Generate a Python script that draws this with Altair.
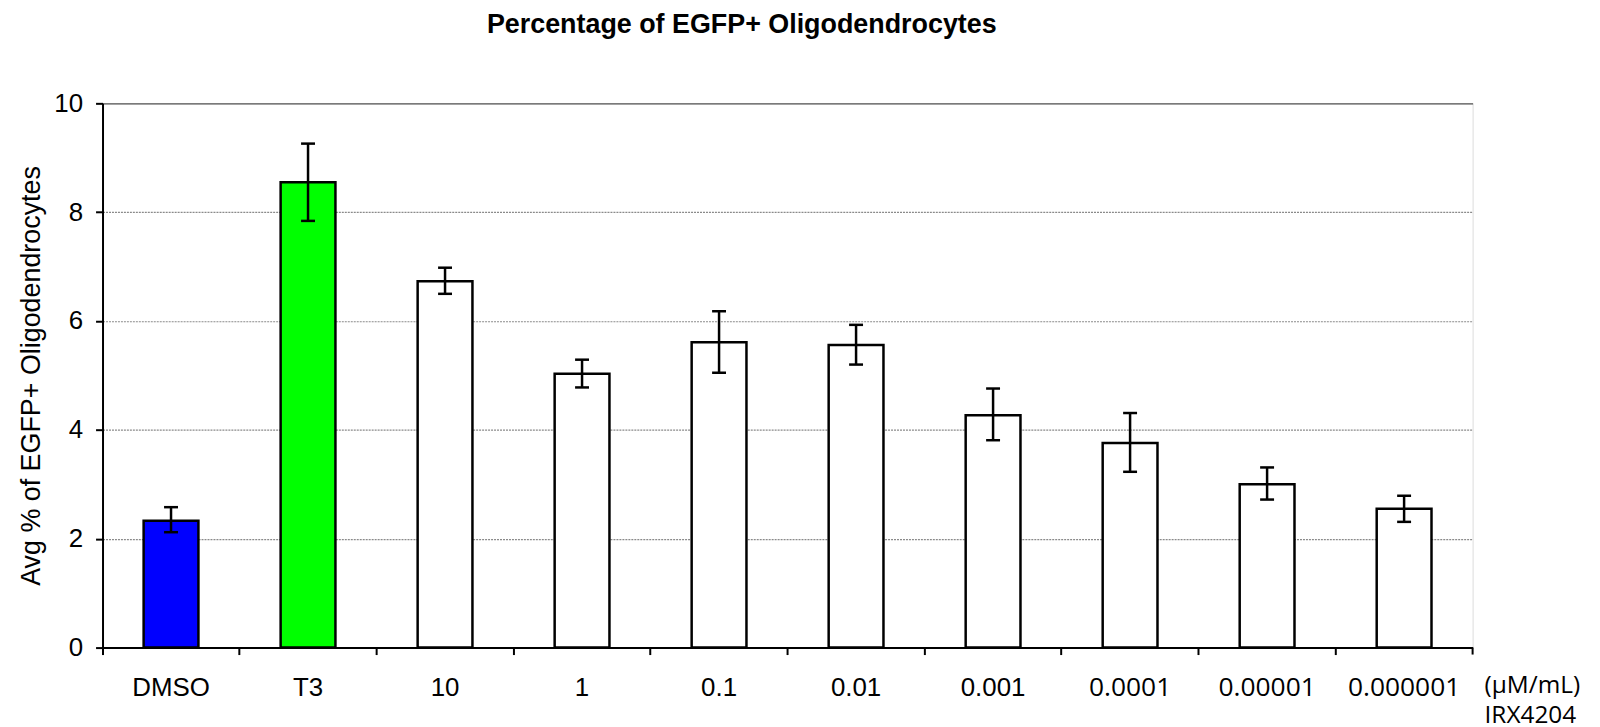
import altair as alt
import pandas as pd

categories = ["DMSO", "T3", "10", "1", "0.1", "0.01", "0.001", "0.0001", "0.00001", "0.000001"]
means = [2.33, 8.55, 6.73, 5.03, 5.61, 5.56, 4.27, 3.76, 3.00, 2.55]
err_low = [2.12, 7.84, 6.50, 4.78, 5.05, 5.20, 3.81, 3.23, 2.72, 2.31]
err_high = [2.58, 9.26, 6.98, 5.29, 6.18, 5.93, 4.76, 4.31, 3.31, 2.79]
fills = ["#0000FF", "#00FF00", "#FFFFFF", "#FFFFFF", "#FFFFFF", "#FFFFFF",
         "#FFFFFF", "#FFFFFF", "#FFFFFF", "#FFFFFF"]
y_ticks = [0, 2, 4, 6, 8, 10]
unit_lines = ["(\u03bcM/mL)", "IRX4204"]
title_text = "Percentage of EGFP+ Oligodendrocytes"
y_title = "Avg % of EGFP+ Oligodendrocytes"

W, H = 1377, 547

df = pd.DataFrame({"cat": categories, "mean": means, "lo": err_low, "hi": err_high})

calibri_like = "indexof(['0.0001','0.00001','0.000001'], datum.value) >= 0"

x_enc = alt.X(
    "cat:N",
    sort=categories,
    scale=alt.Scale(paddingInner=0, paddingOuter=0),
    axis=alt.Axis(
        title=None,
        labelAngle=0,
        bandPosition=0,
        ticks=True,
        tickSize=7,
        tickWidth=2,
        tickColor="black",
        domainColor="black",
        domainWidth=2,
        grid=False,
        labelColor="black",
        labelFont={"condition": {"test": calibri_like, "value": "Open Sans"}, "value": "Liberation Sans"},
        labelFontSize={"condition": {"test": calibri_like, "value": 26.5}, "value": 26},
        labelPadding=20,
        labelBaseline="top",
    ),
)

y_scale = alt.Scale(domain=[0, 10], nice=False, zero=True)

y_axis = alt.Axis(
    values=y_ticks,
    title=y_title,
    titleFont="Liberation Sans",
    titleFontSize=27,
    titleFontWeight="normal",
    titleColor="black",
    titlePadding=8,
    labelFont="Liberation Sans",
    labelFontSize=26,
    labelColor="black",
    labelPadding=13,
    tickSize=7,
    tickWidth=2,
    tickColor="black",
    domainColor="black",
    domainWidth=2,
    grid=True,
    gridColor={"condition": {"test": "datum.value == 10", "value": "#555555"}, "value": "#8a8a8a"},
    gridDash={"condition": {"test": "datum.value == 10", "value": []}, "value": [2, 1]},
    gridWidth=1.2,
)

base = alt.Chart(df)

bars = base.mark_bar(width={"band": 0.4}, stroke="black", strokeWidth=2.5).encode(
    x=x_enc,
    y=alt.Y("mean:Q", scale=y_scale, axis=y_axis),
    color=alt.Color("cat:N", scale=alt.Scale(domain=categories, range=fills), legend=None),
)

err = base.mark_rule(color="black", strokeWidth=2.5).encode(
    x=alt.X("cat:N", sort=categories),
    y=alt.Y("lo:Q", scale=y_scale),
    y2="hi:Q",
)

caps = base.transform_fold(["lo", "hi"], as_=["which", "v"]).mark_tick(
    color="black", size=14, thickness=2.5, opacity=1
).encode(
    x=alt.X("cat:N", sort=categories),
    y=alt.Y("v:Q", scale=y_scale),
)

end_tick = alt.Chart(alt.Data(values=[{"a": 1}])).mark_rule(color="black", strokeWidth=2).encode(
    x=alt.value(W), y=alt.value(H), y2=alt.value(H + 7)
)

units = alt.Chart(alt.Data(values=[{"a": 1}])).mark_text(
    align="left", baseline="middle", font="Open Sans", fontSize=24.5, lineHeight=30, color="black"
).encode(
    x=alt.value(W + 12), y=alt.value(H + 39), text=alt.value(unit_lines)
)

chart = alt.layer(bars, err, caps, end_tick, units).properties(
    width=W,
    height=H,
    padding={"left": 95, "top": 94, "right": 120, "bottom": 80},
    autosize=alt.AutoSizeParams(type="none"),
    title=alt.TitleParams(
        title_text,
        font="Liberation Sans",
        fontSize=27,
        fontWeight="bold",
        color="black",
        anchor="middle",
        dx=-46,
        offset=31,
        baseline="alphabetic",
    ),
).configure_view(stroke="#8c8c8c", strokeWidth=1.5).configure(background="white")

chart.save("out.html", embed_options={"renderer": "svg", "actions": False})
